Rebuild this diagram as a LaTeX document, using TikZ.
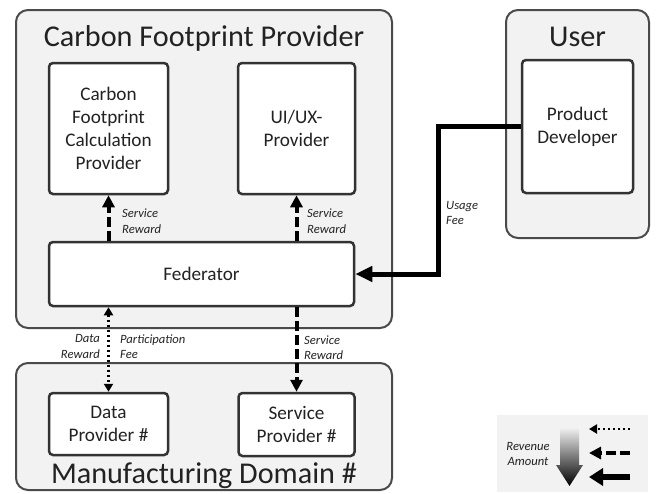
\documentclass[tikz,border=0pt]{standalone}
\usepackage{fontspec}
\setmainfont{Carlito}
\usepackage{tikz}
\usetikzlibrary{arrows.meta}
\definecolor{groupgrey}{HTML}{F2F2F2}
\definecolor{edgegrey}{HTML}{4A4A4A}
\definecolor{boxedge}{HTML}{333333}
\definecolor{inkdark}{HTML}{222222}

\begin{document}
\begin{tikzpicture}[x=1pt, y=-1pt, text=inkdark,
    group/.style={draw=edgegrey, fill=groupgrey, line width=2pt,
      rounded corners=12pt, inner sep=0pt},
    actor/.style={draw=boxedge, fill=white, line width=2.5pt,
      rounded corners=4pt, inner sep=0pt, align=center,
      font=\fontsize{19.2}{23}\selectfont},
    grouptitle/.style={font=\fontsize{30.2}{34}\selectfont},
    flowlabel/.style={font=\fontsize{12.6}{15.5}\selectfont\itshape, inner sep=0pt},
    payreward/.style={line width=4pt, dash pattern=on 10pt off 4pt,
      -{Triangle[length=12pt, width=12pt]}},
    paydata/.style={line width=2.5pt, dash pattern=on 2.5pt off 2.5pt,
      {Triangle[length=8pt, width=9pt]}-{Triangle[length=8pt, width=9pt]}},
    payfee/.style={line width=5pt, -{Triangle[length=17pt, width=15pt]}}]

  \useasboundingbox (0,0) rectangle (656,493);

  % -- the three groups, each with its title
  \node[group, minimum width=376pt, minimum height=318pt] (cfp) at (204,169) {};
  \node[grouptitle] (cfptitle) at (204,38) {Carbon Footprint Provider};
  \node[group, minimum width=143pt, minimum height=228pt] (user) at (577.5,124) {};
  \node[grouptitle] (usertitle) at (577.5,37) {User};
  \node[group, minimum width=376pt, minimum height=127pt] (mfg) at (204,426.5) {};
  \node[grouptitle] (mfgtitle) at (204,476) {Manufacturing Domain \#};

  % -- the actors inside them
  \node[actor, minimum width=119pt, minimum height=131pt] (calc) at (108.5,128.5)
    {Carbon\\Footprint\\Calculation\\Provider};
  \node[actor, minimum width=117pt, minimum height=131pt] (uiux) at (296.5,128.5)
    {UI/UX-\\Provider};
  \node[actor, minimum width=305pt, minimum height=64pt] (fed) at (201.5,274)
    {Federator};
  \node[actor, minimum width=111pt, minimum height=133pt] (dev) at (577.5,126.5)
    {Product\\Developer};
  \node[actor, minimum width=119pt, minimum height=62pt] (data) at (108.5,424)
    {Data\\Provider \#};
  \node[actor, minimum width=116pt, minimum height=63pt] (serv) at (296.5,424.5)
    {Service\\Provider \#};

  % -- money flows
  \draw[payreward] (fed.north -| calc) -- (calc.south);
  \draw[payreward] (fed.north -| uiux) -- (uiux.south);
  \draw[payreward] (fed.south -| serv) -- (serv.north);
  \draw[paydata] (fed.south -| data) -- (data.north);
  \coordinate (bend) at (438,200);
  \draw[payfee] (dev.west) -- (dev.west -| bend) |- (fed.east);

  \node[flowlabel, anchor=west, align=left] (lcalc) at (122,221) {Service\\Reward};
  \node[flowlabel, anchor=west, align=left] (luiux) at (307,221) {Service\\Reward};
  \node[flowlabel, anchor=west, align=left] (lusage) at (446,213) {Usage\\Fee};
  \node[flowlabel, anchor=east, align=right] (ldata) at (100,346.5) {Data\\Reward};
  \node[flowlabel, anchor=west, align=left] (lfee) at (120,346.5) {Participation\\Fee};
  \node[flowlabel, anchor=west, align=left] (lserv) at (304,347.5) {Service\\Reward};

  % -- legend: revenue amount from high to low
  \node[fill=groupgrey, minimum width=151pt, minimum height=77pt, inner sep=0pt]
    (legend) at (572.5,453.5) {};
  \shade[top color=gray!12, bottom color=black]
    (560,428) -- (579,428) -- (579,465) -- (583,465) -- (569.5,486)
    -- (556,465) -- (560,465) -- cycle;
  \node[flowlabel, align=center] (lrev) at (528,454) {Revenue\\Amount};
  \foreach \ly in {429,453,477}{
    \coordinate (lgfrom-\ly) at (630,\ly);
    \coordinate (lgto-\ly) at (589,\ly);
  }
  \draw[line width=2.5pt, dash pattern=on 2.5pt off 2.5pt,
    -{Triangle[length=8pt, width=9pt]}] (lgfrom-429) -- (lgto-429);
  \draw[payreward] (lgfrom-453) -- (lgto-453);
  \draw[line width=6pt, -{Triangle[length=14pt, width=17pt]}] (lgfrom-477) -- (lgto-477);

\end{tikzpicture}
\end{document}
